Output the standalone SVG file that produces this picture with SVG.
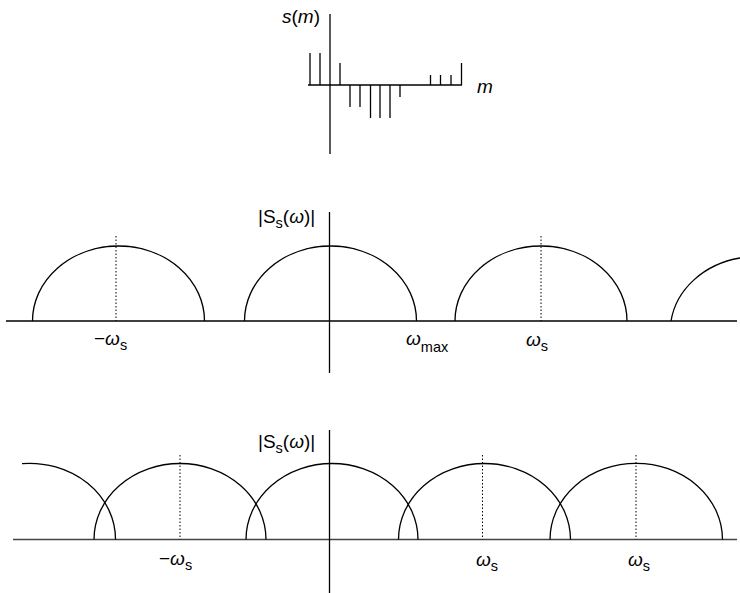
<svg xmlns="http://www.w3.org/2000/svg" width="740" height="593" viewBox="0 0 740 593">
<style>
.ax{stroke:#000;stroke-width:1.3;fill:none}
.arc{stroke:#000;stroke-width:1.3;fill:none}
.stem{stroke:#000;stroke-width:1.3}
.dot{stroke:#000;stroke-width:1;stroke-dasharray:1.5,2;fill:none}
text{font-family:"Liberation Sans",Arial,sans-serif;font-size:19px;fill:#000}
.it{font-style:italic}
.sub{font-size:14.5px}
</style>
<rect width="740" height="593" fill="#fff"/>
<g id="top-plot">
  <g id="top-axes" class="ax">
    <line x1="330" y1="14" x2="330" y2="154"/>
    <line x1="308" y1="85" x2="462" y2="85"/>
  </g>
  <g id="stems" class="stem">
    <line x1="310" y1="85" x2="310" y2="53"/>
    <line x1="320" y1="85" x2="320" y2="53"/>
    <line x1="340" y1="85" x2="340" y2="63"/>
    <line x1="350" y1="85" x2="350" y2="107"/>
    <line x1="360" y1="85" x2="360" y2="107"/>
    <line x1="370.5" y1="85" x2="370.5" y2="118"/>
    <line x1="380" y1="85" x2="380" y2="118"/>
    <line x1="390" y1="85" x2="390" y2="118"/>
    <line x1="400" y1="85" x2="400" y2="97"/>
    <line x1="430.5" y1="85" x2="430.5" y2="75"/>
    <line x1="440.5" y1="85" x2="440.5" y2="75"/>
    <line x1="451" y1="85" x2="451" y2="75"/>
    <line x1="461.5" y1="85" x2="461.5" y2="63"/>
  </g>
  <text id="lbl-sm" x="320" y="23" text-anchor="end"><tspan class="it">s</tspan>(<tspan class="it">m</tspan>)</text>
  <text id="lbl-m" class="it" x="477" y="93">m</text>
</g>
<g id="middle-plot">
  <g id="mid-axes" class="ax">
    <line x1="6" y1="321" x2="737" y2="321"/>
    <line x1="329.5" y1="212" x2="329.5" y2="373"/>
  </g>
  <g id="mid-arcs" class="arc">
    <path d="M32.5,321 A86,75 0 0 1 204.5,321"/>
    <path d="M244.5,321 A86,75 0 0 1 416.5,321"/>
    <path d="M455,321 A86,75 0 0 1 627,321"/>
    <path d="M671,321 A86,75 0 0 1 740,258"/>
  </g>
  <g id="mid-dots" class="dot">
    <line x1="116" y1="236" x2="116" y2="321"/>
    <line x1="541" y1="236" x2="541" y2="321"/>
  </g>
  <text id="mid-title" x="258" y="223">|S<tspan class="sub" dy="5">s</tspan><tspan dy="-5">(</tspan><tspan class="it">ω</tspan>)|</text>
  <text id="mid-neg-ws" x="94" y="345">−<tspan class="it">ω</tspan><tspan class="sub" dy="5">s</tspan></text>
  <text id="mid-wmax" x="406" y="345"><tspan class="it">ω</tspan><tspan class="sub" dy="7">max</tspan></text>
  <text id="mid-ws" x="526" y="346"><tspan class="it">ω</tspan><tspan class="sub" dy="5">s</tspan></text>
</g>
<g id="bottom-plot">
  <g id="bot-axes" class="ax">
    <line x1="13" y1="539.5" x2="737" y2="539.5" stroke="#444" stroke-width="1.6"/>
    <line x1="329.5" y1="430" x2="329.5" y2="593"/>
  </g>
  <g id="bot-arcs" class="arc">
    <path d="M22,463.6 A86,76 0 0 1 115.5,539.5"/>
    <path d="M94,539.5 A86,76 0 0 1 266,539.5"/>
    <path d="M246,539.5 A86,76 0 0 1 418,539.5"/>
    <path d="M398.5,539.5 A86,76 0 0 1 570.5,539.5"/>
    <path d="M550,539.5 A86,76 0 0 1 722.5,539.5"/>
  </g>
  <g id="bot-dots" class="dot">
    <line x1="180" y1="455" x2="180" y2="539.5"/>
    <line x1="482.5" y1="455" x2="482.5" y2="539.5"/>
    <line x1="636" y1="455" x2="636" y2="539.5"/>
  </g>
  <text id="bot-title" x="258" y="448">|S<tspan class="sub" dy="5">s</tspan><tspan dy="-5">(</tspan><tspan class="it">ω</tspan>)|</text>
  <text id="bot-neg-ws" x="159" y="565">−<tspan class="it">ω</tspan><tspan class="sub" dy="5">s</tspan></text>
  <text id="bot-ws1" x="476" y="566"><tspan class="it">ω</tspan><tspan class="sub" dy="5">s</tspan></text>
  <text id="bot-ws2" x="628" y="566"><tspan class="it">ω</tspan><tspan class="sub" dy="5">s</tspan></text>
</g>
</svg>
